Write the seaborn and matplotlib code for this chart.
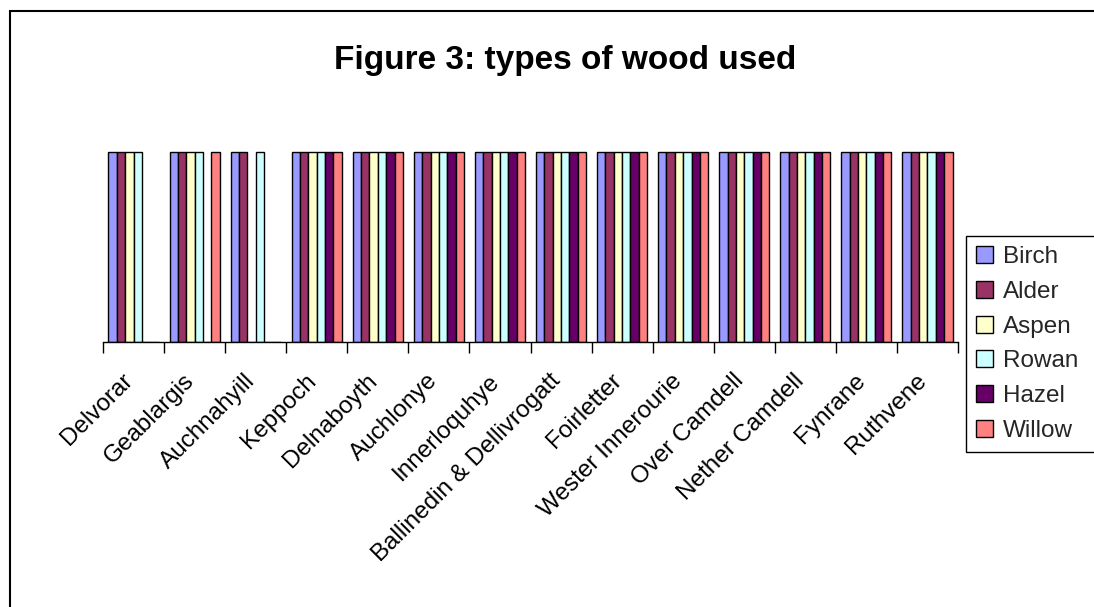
import matplotlib
matplotlib.use("Agg")
import matplotlib.pyplot as plt
from matplotlib.patches import Rectangle, Patch
from matplotlib.transforms import ScaledTranslation
import seaborn as sns
import pandas as pd

sites = ["Delvorar", "Geablargis", "Auchnahyill", "Keppoch", "Delnaboyth",
         "Auchlonye", "Innerloquhye", "Ballinedin & Dellivrogatt", "Foirletter",
         "Wester Innerourie", "Over Camdell", "Nether Camdell", "Fynrane", "Ruthvene"]
woods = ["Birch", "Alder", "Aspen", "Rowan", "Hazel", "Willow"]
colors = ["#9999FF", "#993366", "#FFFFCC", "#CCFFFF", "#660066", "#FF8080"]

# 1 = wood type present at the site, 0 = absent
birch  = [1, 1, 1, 1, 1, 1, 1, 1, 1, 1, 1, 1, 1, 1]
alder  = [1, 1, 1, 1, 1, 1, 1, 1, 1, 1, 1, 1, 1, 1]
aspen  = [1, 1, 0, 1, 1, 1, 1, 1, 1, 1, 1, 1, 1, 1]
rowan  = [1, 1, 1, 1, 1, 1, 1, 1, 1, 1, 1, 1, 1, 1]
hazel  = [0, 0, 0, 1, 1, 1, 1, 1, 1, 1, 1, 1, 1, 1]
willow = [0, 1, 0, 1, 1, 1, 1, 1, 1, 1, 1, 1, 1, 1]

series = dict(zip(woods, [birch, alder, aspen, rowan, hazel, willow]))
rows = [(s, w, series[w][i]) for w in woods for i, s in enumerate(sites)]
df = pd.DataFrame(rows, columns=["site", "wood", "present"])

sns.set_theme(style="white")
plt.rcParams["font.family"] = ["Liberation Sans", "DejaVu Sans"]

W, H = 1094, 607
fig = plt.figure(figsize=(W / 100, H / 100), dpi=100)
fig.patch.set_facecolor("white")

# plot area in pixel terms
x0, x1 = 103, 958
base_y, top_y = 342, 152
ymax = 1.2
ax_h = (base_y - top_y) * ymax
ax = fig.add_axes([x0 / W, (H - base_y) / H, (x1 - x0) / W, ax_h / H])

sns.barplot(data=df, x="site", y="present", hue="wood", order=sites,
            hue_order=woods, palette=colors, width=0.82, ax=ax,
            edgecolor="black", linewidth=1.0, saturation=1, legend=False)

ax.set_xlim(-0.5, len(sites) - 0.5)
ax.set_ylim(0, ymax)
ax.set_xlabel("")
ax.set_ylabel("")
ax.set_yticks([])
for side in ["top", "right", "left"]:
    ax.spines[side].set_visible(False)
ax.spines["bottom"].set_color("black")
ax.spines["bottom"].set_linewidth(1.0)
ax.patch.set_alpha(0)

# category boundary ticks
ax.set_xticks([i - 0.5 for i in range(len(sites) + 1)], minor=True)
ax.tick_params(axis="x", which="minor", length=8, width=1, color="black",
               direction="out", bottom=True)
ax.set_xticks(range(len(sites)))
ax.set_xticklabels(sites, rotation=45, ha="right", va="top",
                   rotation_mode="anchor", fontsize=17.5, color="black")
ax.tick_params(axis="x", which="major", length=0, pad=20)
shift = ScaledTranslation(-12 / 100, 0, fig.dpi_scale_trans)
for lab in ax.get_xticklabels():
    lab.set_transform(lab.get_transform() + shift)

fig.text(565 / W, (H - 60) / H, "Figure 3: types of wood used",
         ha="center", va="center", fontsize=24, fontweight="bold", color="black")

handles = [Patch(facecolor=c, edgecolor="black", linewidth=1.0) for c in colors]
leg_left = 966
leg = fig.legend(handles, woods, loc="upper left",
                 bbox_to_anchor=(leg_left / W, (H - 236) / H), borderaxespad=0,
                 fontsize=17.5, frameon=False,
                 handlelength=0.7, handleheight=0.7, handletextpad=0.41,
                 labelspacing=0.53, borderpad=0.4)
leg.set_zorder(5)

# legend box: the chart area continues past the right edge, so does the box
fig.canvas.draw()
bb = leg.get_window_extent()
fig.patches.append(Rectangle((leg_left / W, bb.y0 / H), 300 / W, bb.height / H,
                             transform=fig.transFigure, facecolor="white",
                             edgecolor="black", linewidth=1.0, zorder=4))

# chart-area border
fig.patches.append(Rectangle((10 / W, -0.1), 1.2, (H - 11) / H + 0.1,
                             transform=fig.transFigure, fill=False,
                             edgecolor="black", linewidth=1.5))

fig.savefig("out.png", dpi=100, facecolor="white")
